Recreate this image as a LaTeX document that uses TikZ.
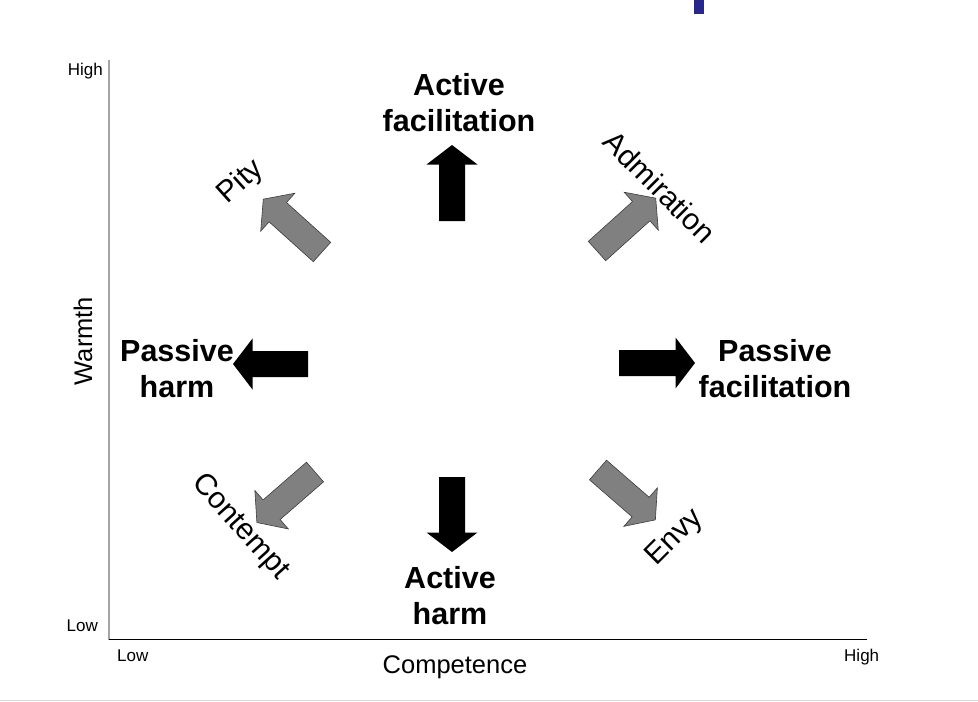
\documentclass[tikz,border=0pt]{standalone}
\usepackage{fontspec}
\setmainfont{Liberation Sans}
\definecolor{navybar}{RGB}{40,40,140}
\definecolor{grayfill}{RGB}{128,128,128}
\definecolor{grayedge}{RGB}{60,60,60}
\definecolor{axisgray}{RGB}{165,165,165}
\definecolor{rulegray}{RGB}{215,215,215}
\newcommand{\blockarrowpath}[4]{%
  \path[#1, shift={(#2)}, rotate=#3]
    (0,-13) -- ({#4-19.5},-13) -- ({#4-19.5},-25.5) -- (#4,0) --
    ({#4-19.5},25.5) -- ({#4-19.5},13) -- (0,13) -- cycle;}
\tikzset{
  bigbold/.style={font=\fontsize{30.5}{36}\selectfont\bfseries, align=center, inner sep=0pt},
  emolabel/.style={font=\fontsize{30}{36}\selectfont, inner sep=0pt},
  axislabel/.style={font=\fontsize{25.5}{30}\selectfont, inner sep=0pt},
  ticklabel/.style={font=\fontsize{17}{20}\selectfont, inner sep=0pt},
  blackarrow/.style={fill=black},
  grayarrow/.style={fill=grayfill, draw=grayedge, line width=0.6pt, line join=miter},
}
\begin{document}
\begin{tikzpicture}[x=1pt, y=-1pt]
\useasboundingbox (0,0) rectangle (978,702);
% top bar and bottom rule
\fill[navybar] (694,0) rectangle (704,13.5);
\draw[rulegray, line width=1.2pt] (0,700.5) -- (978,700.5);
% axes
\coordinate (origin) at (109,639.5);
\coordinate (ytop) at (109,60);
\coordinate (xend) at (867,639.5);
\draw[axisgray, line width=1.3pt] (origin) -- (ytop);
\draw[black, line width=1.3pt] (origin) -- (xend);
% axis labels
\node[axislabel, rotate=90, anchor=base] (warmth) at (92,341) {Warmth};
\node[axislabel, anchor=base] (competence) at (455,673) {Competence};
\node[ticklabel, anchor=base east] (yhigh) at (103,75) {High};
\node[ticklabel, anchor=base east] (ylow) at (98,631.5) {Low};
\node[ticklabel, anchor=base west] (xlow) at (117,661.5) {Low};
\node[ticklabel, anchor=base west] (xhigh) at (844,661.5) {High};
% black arrows
\coordinate (upt) at (452,221);
\coordinate (downt) at (452,477);
\coordinate (leftt) at (308,364);
\coordinate (rightt) at (619,363);
\blockarrowpath{blackarrow}{upt}{90}{76}
\blockarrowpath{blackarrow}{downt}{-90}{75}
\blockarrowpath{blackarrow}{leftt}{180}{75}
\blockarrowpath{blackarrow}{rightt}{0}{76}
% gray arrows
\coordinate (pityt) at (322,252);
\coordinate (admt) at (597,251);
\coordinate (contt) at (315,472);
\coordinate (envyt) at (598,470);
\blockarrowpath{grayarrow}{pityt}{138}{79}
\blockarrowpath{grayarrow}{admt}{42}{79}
\blockarrowpath{grayarrow}{contt}{-139}{77}
\blockarrowpath{grayarrow}{envyt}{-41}{76}
% bold labels
\node[bigbold, anchor=north] (actfac) at (459,73.5) {Active\\facilitation};
\node[bigbold, anchor=north] (pasharm) at (177,339.5) {Passive\\harm};
\node[bigbold, anchor=north] (pasfac) at (775,339.5) {Passive\\facilitation};
\node[bigbold, anchor=north] (actharm) at (450,566.5) {Active\\harm};
% emotion labels
\node[emolabel, rotate=42] (pity) at (241,182) {Pity};
\node[emolabel, rotate=-45] (admiration) at (660,187) {Admiration};
\node[emolabel, rotate=-48] (contempt) at (240,527) {Contempt};
\node[emolabel, rotate=45] (envy) at (675,538) {Envy};
\end{tikzpicture}
\end{document}
